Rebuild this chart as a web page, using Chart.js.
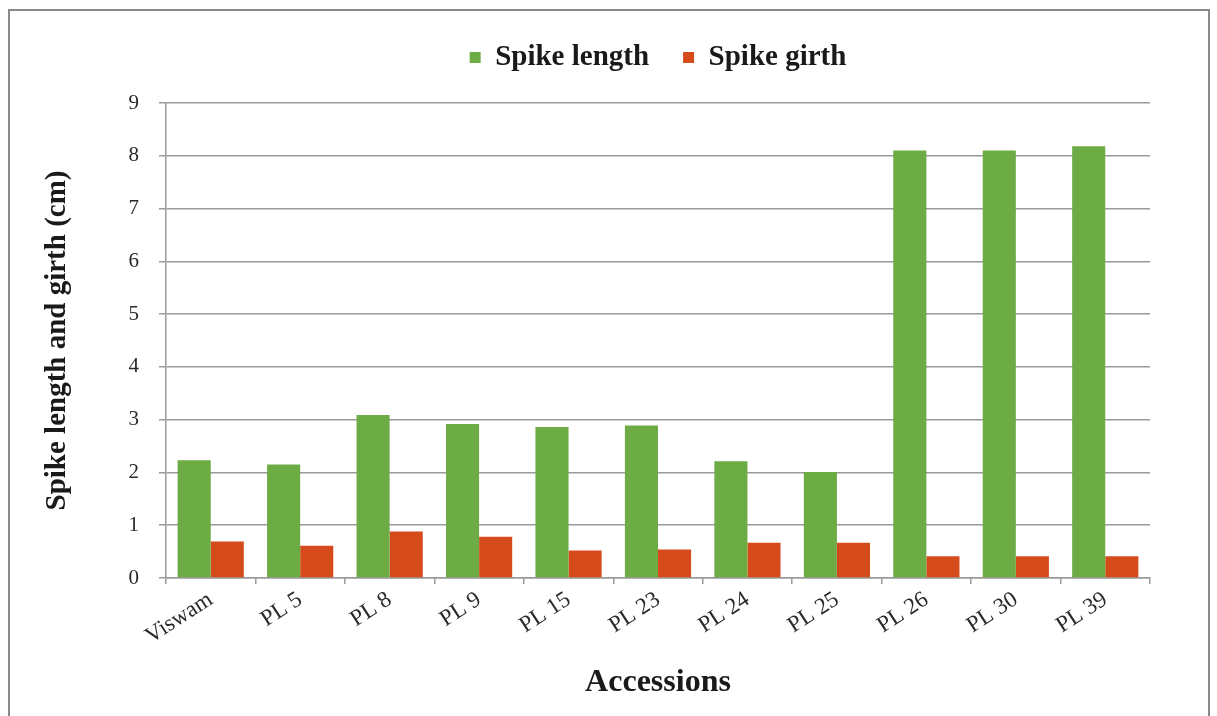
<!DOCTYPE html>
<html>
<head>
<meta charset="utf-8">
<script src="https://cdn.jsdelivr.net/npm/chart.js@4/dist/chart.umd.min.js"></script>
<style>
  html, body { margin: 0; padding: 0; background: #ffffff; }
  #wrap { position: relative; width: 1217px; height: 716px; overflow: hidden; }
  #frame { position: absolute; left: 8px; top: 9px; width: 1202px; height: 720px;
           border: 2px solid #8a8a8a; box-sizing: border-box; pointer-events: none; }
  canvas { position: absolute; left: 0; top: 0; }
</style>
</head>
<body>
<div id="wrap">
  <canvas id="chart" width="1217" height="716"></canvas>
  <div id="frame"></div>
</div>
<script>
// Accessions and their mean spike measurements (cm)
const accessions = ['Viswam', 'PL 5', 'PL 8', 'PL 9', 'PL 15', 'PL 23', 'PL 24', 'PL 25', 'PL 26', 'PL 30', 'PL 39'];
const spikeLength = [2.23, 2.15, 3.09, 2.92, 2.86, 2.89, 2.21, 2.01, 8.10, 8.10, 8.18];
const spikeGirth  = [0.69, 0.61, 0.88, 0.78, 0.52, 0.54, 0.67, 0.67, 0.41, 0.41, 0.41];
const yTicks = [0, 1, 2, 3, 4, 5, 6, 7, 8, 9];

const serif = '"Liberation Serif", "DejaVu Serif", serif';
const gridGrey = '#9a9a9a';

// extra room between the legend row and the plot
const legendGap = {
  id: 'legendGap',
  afterInit(chart) {
    const lg = chart.legend;
    if (!lg) return;
    const fit = lg.fit;
    lg.fit = function () { fit.call(this); this.height += 21; };
  }
};

new Chart(document.getElementById('chart'), {
  type: 'bar',
  data: {
    labels: accessions,
    datasets: [
      { label: 'Spike length', data: spikeLength, backgroundColor: '#6dab45', borderWidth: 0 },
      { label: 'Spike girth',  data: spikeGirth,  backgroundColor: '#d54b1b', borderWidth: 0 }
    ]
  },
  plugins: [legendGap],
  options: {
    responsive: false,
    animation: false,
    devicePixelRatio: 1,
    datasets: { bar: { categoryPercentage: 0.74, barPercentage: 1.0 } },
    layout: { padding: { top: 9, left: 40, right: 67, bottom: 0 } },
    plugins: {
      tooltip: { enabled: false },
      legend: {
        position: 'top',
        align: 'center',
        fullSize: false,
        labels: {
          font: { family: serif, size: 29, weight: 'bold' },
          color: '#1a1a1a',
          boxWidth: 11,
          boxHeight: 11,
          padding: 34
        }
      }
    },
    scales: {
      x: {
        grid: { display: true, drawOnChartArea: false, offset: true, color: gridGrey, lineWidth: 1.5, tickLength: 6 },
        border: { display: true, color: gridGrey, width: 1.5 },
        ticks: {
          font: { family: serif, size: 23 },
          color: '#2a2a2a',
          minRotation: 33,
          maxRotation: 33,
          padding: 2
        },
        title: {
          display: true,
          text: 'Accessions',
          font: { family: serif, size: 32, weight: 'bold' },
          color: '#1a1a1a',
          padding: { top: 0, bottom: 14 }
        },
        afterFit: (s) => { s.height = 138; }
      },
      y: {
        min: 0,
        max: 9,
        afterBuildTicks: (s) => { s.ticks = yTicks.map(v => ({ value: v })); },
        grid: { color: gridGrey, lineWidth: 1.5, tickLength: 7, drawTicks: true },
        border: { display: true, color: gridGrey, width: 1.5 },
        ticks: {
          font: { family: serif, size: 21 },
          color: '#2a2a2a',
          padding: 20
        },
        title: {
          display: true,
          text: 'Spike length and girth (cm)',
          font: { family: serif, size: 29, weight: 'bold' },
          color: '#1a1a1a',
          padding: { top: 0, bottom: 0 }
        },
        afterFit: (s) => { s.width = 126; }
      }
    }
  }
});
</script>
</body>
</html>
